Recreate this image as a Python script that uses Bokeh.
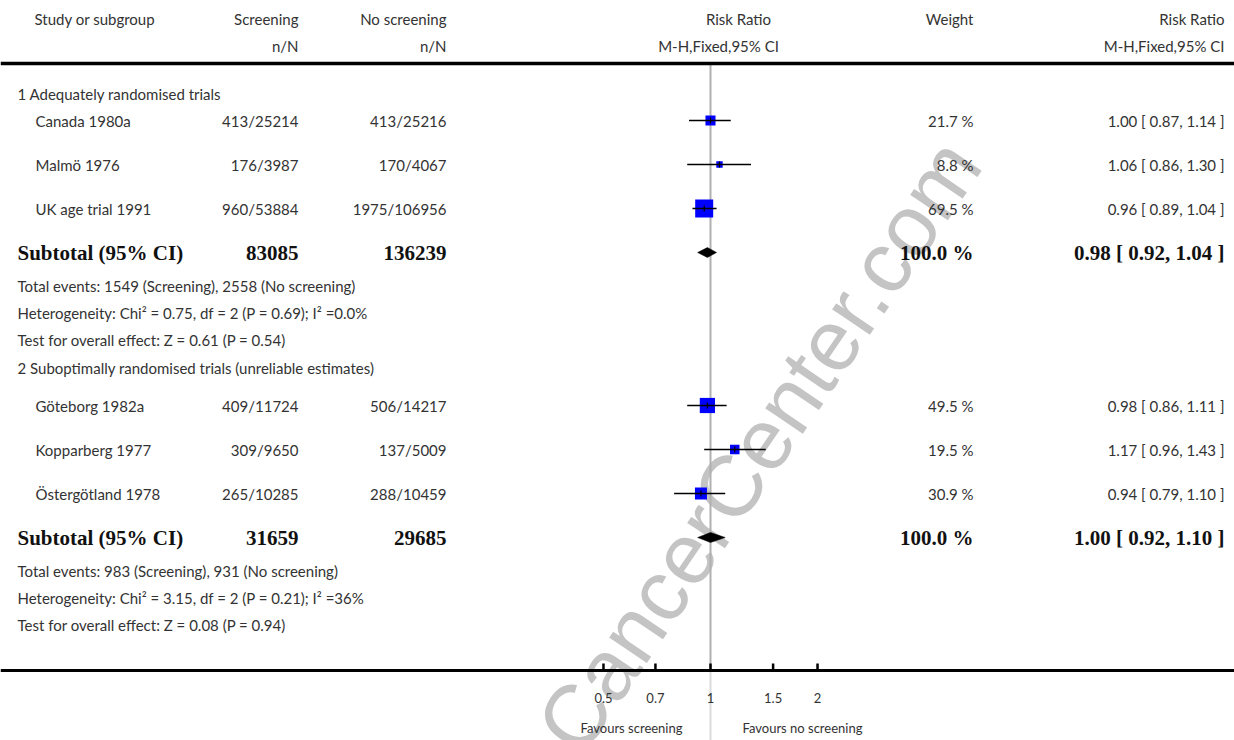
import math
from bokeh.plotting import figure
from bokeh.models import Range1d, LinearScale, Span
from bokeh.core.properties import value
from bokeh.embed import file_html
from bokeh.resources import INLINE

# ---------------- data ----------------
group_titles = ["1 Adequately randomised trials",
                "2 Suboptimally randomised trials (unreliable estimates)"]
studies = ["Canada 1980a", "Malmö 1976", "UK age trial 1991",
           "Göteborg 1982a", "Kopparberg 1977", "Östergötland 1978"]
study_group = [0, 0, 0, 1, 1, 1]
screen_nN = ["413/25214", "176/3987", "960/53884", "409/11724", "309/9650", "265/10285"]
noscreen_nN = ["413/25216", "170/4067", "1975/106956", "506/14217", "137/5009", "288/10459"]
rr = [1.00, 1.06, 0.96, 0.98, 1.17, 0.94]
rr_lo = [0.87, 0.86, 0.89, 0.86, 0.96, 0.79]
rr_hi = [1.14, 1.30, 1.04, 1.11, 1.43, 1.10]
weight = [21.7, 8.8, 69.5, 49.5, 19.5, 30.9]

sub_N_screen = [83085, 31659]
sub_N_noscreen = [136239, 29685]
sub_rr = [0.98, 1.00]
sub_lo = [0.92, 0.92]
sub_hi = [1.04, 1.10]
sub_weight = [100.0, 100.0]
events_screen = [1549, 983]
events_noscreen = [2558, 931]
het_chi2 = ["0.75", "3.15"]
het_df = [2, 2]
het_p = ["0.69", "0.21"]
het_i2 = ["0.0%", "36%"]
z_val = ["0.61", "0.08"]
z_p = ["0.54", "0.94"]

null_rr = 1.0
ticks = [0.5, 0.7, 1, 1.5, 2]
tick_labels = ["0.5", "0.7", "1", "1.5", "2"]
favours_left = "Favours screening"
favours_right = "Favours no screening"
watermark = "CancerCenter.com"

# ---------------- layout (reference pixel coordinates) ----------------
W, H = 1234, 740
OX, OY = 0, 0
ONE_X = 710.0
PX_PER_LN = 154.4
xmin = math.exp((OX - ONE_X) / PX_PER_LN)
xmax = math.exp((OX + W - ONE_X) / PX_PER_LN)

HEAD_Y = [18, 45]
HEAD_LINE_Y = 63
TITLE_Y = [93, 367]
FIRST_ROW_Y = [120, 405]
ROW_GAP = 44
NOTE_GAP = 27
AXIS_Y = 670
TICKLABEL_Y = 697
FAVOURS_Y = 727

COL_GROUP = 17
COL_STUDY = 35
COL_HEAD_STUDY = 34
COL_SCREEN = 298
COL_NOSCREEN = 446
COL_RRHEAD = 738
COL_RRHEAD2 = 718
COL_WEIGHT = 973
COL_RRTEXT = 1224

FONT = "Lato"
BOLD_FONT = "Liberation Serif"
TXT = "#333333"
SIZE = "15px"
BSIZE = "21px"

p = figure(width=W, height=H, x_axis_type="log",
           x_range=Range1d(xmin, xmax), y_range=Range1d(OY + H, OY),
           output_backend="svg", toolbar_location=None, min_border=0,
           x_axis_location=None, y_axis_location=None)
p.extra_x_ranges = {"px": Range1d(OX, OX + W)}
p.extra_x_scales = {"px": LinearScale()}
p.outline_line_color = None
p.xgrid.visible = False
p.ygrid.visible = False
p.background_fill_color = "white"
p.border_fill_color = "white"


def txt(xs, ys, texts, align="left", bold=False, size=None, color=None, font=None):
    p.text(x=xs, y=ys, text=texts, x_range_name="px",
           text_align=align, text_baseline="middle",
           text_font=value(font or (BOLD_FONT if bold else FONT)),
           text_font_size=value(size or (BSIZE if bold else SIZE)),
           text_font_style="bold" if bold else "normal",
           text_color=color or ("#111111" if bold else TXT))


# watermark (behind everything)
p.text(x=[758], y=[445], text=[watermark], x_range_name="px",
       angle=55.8, angle_units="deg", text_align="center", text_baseline="middle",
       text_font=value("Liberation Sans"), text_font_size=value("86px"),
       text_color="#c4c4c4")

# null line
p.segment(x0=[null_rr], y0=[HEAD_LINE_Y], x1=[null_rr], y1=[AXIS_Y],
          line_color="#b0b0b0", line_width=2)
p.segment(x0=[null_rr], y0=[AXIS_Y], x1=[null_rr], y1=[OY + H],
          line_color="#dadada", line_width=2)

# header
txt([COL_HEAD_STUDY], [HEAD_Y[0]], ["Study or subgroup"])
txt([COL_SCREEN, COL_NOSCREEN, COL_WEIGHT, COL_RRTEXT], [HEAD_Y[0]] * 4,
    ["Screening", "No screening", "Weight", "Risk Ratio"], align="right")
txt([COL_SCREEN, COL_NOSCREEN, COL_RRTEXT], [HEAD_Y[1]] * 3,
    ["n/N", "n/N", "M-H,Fixed,95% CI"], align="right")
txt([COL_RRHEAD], [HEAD_Y[0]], ["Risk Ratio"], align="center")
txt([COL_RRHEAD2], [HEAD_Y[1]], ["M-H,Fixed,95% CI"], align="center")
p.add_layout(Span(location=HEAD_LINE_Y, dimension="width", line_color="black", line_width=3.5))

# study rows
counter = [0, 0]
study_y = []
for g in study_group:
    study_y.append(FIRST_ROW_Y[g] + ROW_GAP * counter[g])
    counter[g] += 1
sub_y = [FIRST_ROW_Y[g] + ROW_GAP * counter[g] for g in range(2)]

txt([COL_GROUP] * 2, TITLE_Y, group_titles)
txt([COL_STUDY] * len(studies), study_y, studies)
txt([COL_SCREEN] * len(studies), study_y, screen_nN, align="right")
txt([COL_NOSCREEN] * len(studies), study_y, noscreen_nN, align="right")
txt([COL_WEIGHT] * len(studies), study_y, [f"{w:.1f} %" for w in weight], align="right")
txt([COL_RRTEXT] * len(studies), study_y,
    [f"{a:.2f} [ {b:.2f}, {c:.2f} ]" for a, b, c in zip(rr, rr_lo, rr_hi)], align="right")

# markers
sizes = [2.16 * math.sqrt(w) for w in weight]
p.scatter(x=rr, y=study_y, marker="square", size=sizes,
          fill_color="#0000ff", line_color=None)
p.segment(x0=rr_lo, y0=study_y, x1=rr_hi, y1=study_y, line_color="black", line_width=1.5)
p.scatter(x=rr, y=study_y, marker="dash", angle=90, angle_units="deg", size=6,
          line_color="black", line_width=1.2)

# subtotals
txt([COL_GROUP] * 2, sub_y, ["Subtotal (95% CI)"] * 2, bold=True)
txt([COL_SCREEN] * 2, sub_y, [str(v) for v in sub_N_screen], align="right", bold=True)
txt([COL_NOSCREEN] * 2, sub_y, [str(v) for v in sub_N_noscreen], align="right", bold=True)
txt([COL_WEIGHT] * 2, sub_y, [f"{w:.1f} %" for w in sub_weight], align="right", bold=True)
txt([COL_RRTEXT] * 2, sub_y,
    [f"{a:.2f} [ {b:.2f}, {c:.2f} ]" for a, b, c in zip(sub_rr, sub_lo, sub_hi)],
    align="right", bold=True)
p.patches(xs=[[lo, r, hi, r] for lo, r, hi in zip(sub_lo, sub_rr, sub_hi)],
          ys=[[y, y - 5, y, y + 5] for y in sub_y],
          fill_color="black", line_color="black", line_width=0.5)

# notes
note_x, note_y, note_t = [], [], []
for g in range(2):
    base = sub_y[g] + 33
    note_t += [f"Total events: {events_screen[g]} (Screening), {events_noscreen[g]} (No screening)",
               f"Heterogeneity: Chi² = {het_chi2[g]}, df = {het_df[g]} (P = {het_p[g]}); I² ={het_i2[g]}",
               f"Test for overall effect: Z = {z_val[g]} (P = {z_p[g]})"]
    note_y += [base, base + NOTE_GAP, base + 2 * NOTE_GAP]
    note_x += [COL_GROUP] * 3
txt(note_x, note_y, note_t)

# bottom axis
p.add_layout(Span(location=AXIS_Y, dimension="width", line_color="black", line_width=3))
p.segment(x0=ticks, y0=[AXIS_Y - 1] * len(ticks), x1=ticks, y1=[AXIS_Y - 7] * len(ticks),
          line_color="black", line_width=2.5)
p.text(x=ticks, y=[TICKLABEL_Y] * len(ticks), text=tick_labels,
       text_align="center", text_baseline="middle", text_font=value(FONT),
       text_font_size=value("13px"), text_color=TXT)
txt([682], [FAVOURS_Y], [favours_left], align="right", size="13px")
txt([742], [FAVOURS_Y], [favours_right], align="left", size="13px")

open("out.html", "w").write(file_html(p, INLINE))
